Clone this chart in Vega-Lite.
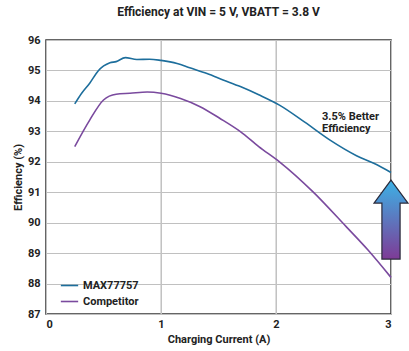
{
  "$schema": "https://vega.github.io/schema/vega-lite/v6.json",
  "width": 345,
  "height": 274,
  "autosize": {"type": "none"},
  "padding": {"left": 46, "top": 40, "right": 18, "bottom": 37},
  "title": {
    "text": "Efficiency at VIN = 5 V, VBATT = 3.8 V",
    "font": "Roboto",
    "fontSize": 12,
    "fontWeight": "bold",
    "color": "#222222",
    "offset": 15,
    "anchor": "middle"
  },
  "config": {
    "view": {"stroke": "#333333", "strokeWidth": 1.5},
    "axis": {
      "labelFont": "Roboto",
      "labelFontWeight": "bold",
      "labelFontSize": 11,
      "labelColor": "#222222",
      "titleFont": "Roboto",
      "titleFontWeight": "bold",
      "titleFontSize": 11,
      "titleColor": "#222222",
      "domain": false,
      "ticks": false,
      "grid": true,
      "gridColor": "#c0c0c0",
      "gridWidth": 1
    }
  },
  "datasets": {
    "curves": [
      {"current": 0.25, "eff": 93.9, "series": "MAX77757"},
      {"current": 0.31, "eff": 94.25, "series": "MAX77757"},
      {"current": 0.38, "eff": 94.58, "series": "MAX77757"},
      {"current": 0.455, "eff": 94.99, "series": "MAX77757"},
      {"current": 0.556, "eff": 95.25, "series": "MAX77757"},
      {"current": 0.61, "eff": 95.29, "series": "MAX77757"},
      {"current": 0.69, "eff": 95.42, "series": "MAX77757"},
      {"current": 0.79, "eff": 95.36, "series": "MAX77757"},
      {"current": 0.9, "eff": 95.37, "series": "MAX77757"},
      {"current": 1.0, "eff": 95.33, "series": "MAX77757"},
      {"current": 1.14, "eff": 95.23, "series": "MAX77757"},
      {"current": 1.25, "eff": 95.09, "series": "MAX77757"},
      {"current": 1.4, "eff": 94.9, "series": "MAX77757"},
      {"current": 1.54, "eff": 94.69, "series": "MAX77757"},
      {"current": 1.69, "eff": 94.47, "series": "MAX77757"},
      {"current": 1.85, "eff": 94.2, "series": "MAX77757"},
      {"current": 2.03, "eff": 93.86, "series": "MAX77757"},
      {"current": 2.25, "eff": 93.3, "series": "MAX77757"},
      {"current": 2.47, "eff": 92.71, "series": "MAX77757"},
      {"current": 2.7, "eff": 92.2, "series": "MAX77757"},
      {"current": 2.85, "eff": 91.95, "series": "MAX77757"},
      {"current": 3.0, "eff": 91.65, "series": "MAX77757"},
      {"current": 0.25, "eff": 92.5, "series": "Competitor"},
      {"current": 0.38, "eff": 93.37, "series": "Competitor"},
      {"current": 0.5, "eff": 94.03, "series": "Competitor"},
      {"current": 0.61, "eff": 94.22, "series": "Competitor"},
      {"current": 0.73, "eff": 94.25, "series": "Competitor"},
      {"current": 0.88, "eff": 94.29, "series": "Competitor"},
      {"current": 1.0, "eff": 94.25, "series": "Competitor"},
      {"current": 1.17, "eff": 94.08, "series": "Competitor"},
      {"current": 1.34, "eff": 93.81, "series": "Competitor"},
      {"current": 1.51, "eff": 93.43, "series": "Competitor"},
      {"current": 1.69, "eff": 92.99, "series": "Competitor"},
      {"current": 1.85, "eff": 92.5, "series": "Competitor"},
      {"current": 2.03, "eff": 92.0, "series": "Competitor"},
      {"current": 2.32, "eff": 91.02, "series": "Competitor"},
      {"current": 2.61, "eff": 89.87, "series": "Competitor"},
      {"current": 2.8, "eff": 89.1, "series": "Competitor"},
      {"current": 3.0, "eff": 88.2, "series": "Competitor"}
    ],
    "vgrid": [
      {"current": 1, "lo": 87, "hi": 96},
      {"current": 2, "lo": 87, "hi": 96}
    ],
    "note": [
      {"current": 2.4, "eff": 93.48, "label": ["3.5% Better", "Efficiency"]}
    ],
    "arrow": [
      {"current": 3.0, "eff": 90.1}
    ]
  },
  "encoding": {
    "x": {
      "field": "current",
      "type": "quantitative",
      "scale": {"domain": [0, 3], "nice": false},
      "axis": {"values": [0, 1, 2, 3], "format": "d", "labelOverlap": false, "grid": true, "title": "Charging Current (A)", "labelPadding": 4, "titlePadding": 4}
    },
    "y": {
      "field": "eff",
      "type": "quantitative",
      "scale": {"domain": [87, 96], "nice": false, "zero": false},
      "axis": {"values": [87, 88, 89, 90, 91, 92, 93, 94, 95, 96], "format": "d", "labelOverlap": false, "grid": true, "title": "Efficiency (%)", "labelPadding": 6, "titlePadding": 4}
    }
  },
  "layer": [
    {
      "data": {"name": "vgrid"},
      "mark": {"type": "rule", "color": "#c4c4c4", "strokeWidth": 1.1},
      "encoding": {
        "y": {"field": "lo", "type": "quantitative"},
        "y2": {"field": "hi"}
      }
    },
    {
      "data": {"name": "curves"},
      "mark": {"type": "line", "strokeWidth": 1.6, "clip": false, "interpolate": "monotone"},
      "encoding": {
        "color": {
          "field": "series",
          "type": "nominal",
          "sort": ["MAX77757", "Competitor"],
          "scale": {"domain": ["MAX77757", "Competitor"], "range": ["#1d6e9c", "#7a4a9e"]},
          "legend": {
            "orient": "none",
            "legendX": 14,
            "legendY": 236,
            "title": null,
            "symbolType": "stroke",
            "symbolSize": 300,
            "symbolStrokeWidth": 1.6,
            "labelFont": "Roboto",
            "labelFontWeight": "bold",
            "labelFontSize": 11,
            "labelColor": "#222222",
            "rowPadding": 1,
            "labelOffset": 4
          }
        }
      }
    },
    {
      "data": {"name": "note"},
      "mark": {
        "type": "text",
        "align": "left",
        "baseline": "middle",
        "font": "Roboto",
        "fontWeight": "bold",
        "fontSize": 11,
        "lineHeight": 12,
        "color": "#222222"
      },
      "encoding": {
        "text": {"field": "label"}
      }
    },
    {
      "data": {"name": "arrow"},
      "mark": {
        "type": "point",
        "filled": true,
        "clip": false,
        "shape": "M0,-1 L0.43,-0.42 L0.23,-0.42 L0.23,1 L-0.23,1 L-0.23,-0.42 L-0.43,-0.42 Z",
        "size": 6241,
        "opacity": 1,
        "fill": {
          "gradient": "linear",
          "x1": 0, "y1": 0, "x2": 0, "y2": 1,
          "stops": [
            {"offset": 0, "color": "#3cb2e6"},
            {"offset": 1, "color": "#7e3b96"}
          ]
        },
        "stroke": "#2a2a3a",
        "strokeWidth": 1.2
      },
      "encoding": {}
    }
  ]
}
